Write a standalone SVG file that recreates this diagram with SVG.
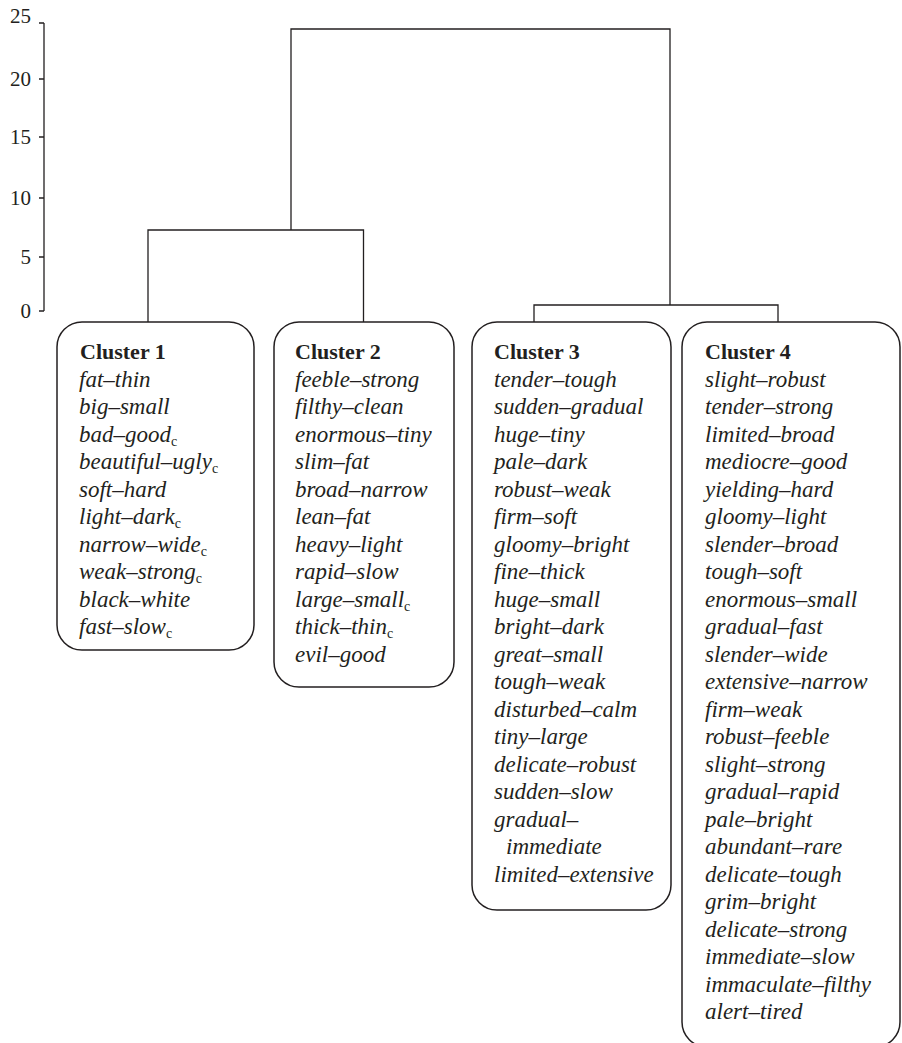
<svg xmlns="http://www.w3.org/2000/svg" width="902" height="1043" viewBox="0 0 902 1043">
<style>
.ln{fill:none;stroke:#231f20;stroke-width:1.3}
.box{fill:#fff;stroke:#231f20;stroke-width:1.5}
.ax{font-family:"Liberation Serif",serif;font-size:21px;fill:#231f20;text-anchor:end}
.t{font-family:"Liberation Serif",serif;font-size:22px;font-weight:bold;fill:#231f20}
.i{font-family:"Liberation Serif",serif;font-size:23px;font-style:italic;fill:#231f20}
.s{font-style:normal;font-size:14px}
</style>
<rect width="902" height="1043" fill="#fff"/>
<g id="axis">
<path class="ln" d="M44 23V311M39 23H44M39 79H44M39 137H44M39 198H44M39 257H44M39 311H44"/>
<text class="ax" x="31" y="23">25</text>
<text class="ax" x="31" y="86">20</text>
<text class="ax" x="31" y="144">15</text>
<text class="ax" x="31" y="205">10</text>
<text class="ax" x="31" y="264">5</text>
<text class="ax" x="31" y="318">0</text>
</g>
<g id="connectors">
<path class="ln" d="M148 322V230H363.5V322M291 230V29H670V305M534 322V305H778V322"/>
</g>
<g id="cluster1">
<rect class="box" x="57" y="322" width="197" height="328" rx="25"/>
<text class="t" x="80" y="359">Cluster 1</text>
<text class="i" x="79" y="386.5">fat–thin</text>
<text class="i" x="79" y="414">big–small</text>
<text class="i" x="79" y="441.5">bad–good<tspan class="s" dy="4">c</tspan></text>
<text class="i" x="79" y="469">beautiful–ugly<tspan class="s" dy="4">c</tspan></text>
<text class="i" x="79" y="496.5">soft–hard</text>
<text class="i" x="79" y="524">light–dark<tspan class="s" dy="4">c</tspan></text>
<text class="i" x="79" y="551.5">narrow–wide<tspan class="s" dy="4">c</tspan></text>
<text class="i" x="79" y="579">weak–strong<tspan class="s" dy="4">c</tspan></text>
<text class="i" x="79" y="606.5">black–white</text>
<text class="i" x="79" y="634">fast–slow<tspan class="s" dy="4">c</tspan></text>
</g>
<g id="cluster2">
<rect class="box" x="274" y="322" width="180" height="365" rx="25"/>
<text class="t" x="295" y="359">Cluster 2</text>
<text class="i" x="295" y="386.5">feeble–strong</text>
<text class="i" x="295" y="414">filthy–clean</text>
<text class="i" x="295" y="441.5">enormous–tiny</text>
<text class="i" x="295" y="469">slim–fat</text>
<text class="i" x="295" y="496.5">broad–narrow</text>
<text class="i" x="295" y="524">lean–fat</text>
<text class="i" x="295" y="551.5">heavy–light</text>
<text class="i" x="295" y="579">rapid–slow</text>
<text class="i" x="295" y="606.5">large–small<tspan class="s" dy="4">c</tspan></text>
<text class="i" x="295" y="634">thick–thin<tspan class="s" dy="4">c</tspan></text>
<text class="i" x="295" y="661.5">evil–good</text>
</g>
<g id="cluster3">
<rect class="box" x="472" y="322" width="199" height="588" rx="25"/>
<text class="t" x="494" y="359">Cluster 3</text>
<text class="i" x="494" y="386.5">tender–tough</text>
<text class="i" x="494" y="414">sudden–gradual</text>
<text class="i" x="494" y="441.5">huge–tiny</text>
<text class="i" x="494" y="469">pale–dark</text>
<text class="i" x="494" y="496.5">robust–weak</text>
<text class="i" x="494" y="524">firm–soft</text>
<text class="i" x="494" y="551.5">gloomy–bright</text>
<text class="i" x="494" y="579">fine–thick</text>
<text class="i" x="494" y="606.5">huge–small</text>
<text class="i" x="494" y="634">bright–dark</text>
<text class="i" x="494" y="661.5">great–small</text>
<text class="i" x="494" y="689">tough–weak</text>
<text class="i" x="494" y="716.5">disturbed–calm</text>
<text class="i" x="494" y="744">tiny–large</text>
<text class="i" x="494" y="771.5">delicate–robust</text>
<text class="i" x="494" y="799">sudden–slow</text>
<text class="i" x="494" y="826.5">gradual–</text>
<text class="i" x="506" y="854">immediate</text>
<text class="i" x="494" y="881.5">limited–extensive</text>
</g>
<g id="cluster4">
<rect class="box" x="682" y="322" width="218" height="725" rx="25"/>
<text class="t" x="705" y="359">Cluster 4</text>
<text class="i" x="705" y="386.5">slight–robust</text>
<text class="i" x="705" y="414">tender–strong</text>
<text class="i" x="705" y="441.5">limited–broad</text>
<text class="i" x="705" y="469">mediocre–good</text>
<text class="i" x="705" y="496.5">yielding–hard</text>
<text class="i" x="705" y="524">gloomy–light</text>
<text class="i" x="705" y="551.5">slender–broad</text>
<text class="i" x="705" y="579">tough–soft</text>
<text class="i" x="705" y="606.5">enormous–small</text>
<text class="i" x="705" y="634">gradual–fast</text>
<text class="i" x="705" y="661.5">slender–wide</text>
<text class="i" x="705" y="689">extensive–narrow</text>
<text class="i" x="705" y="716.5">firm–weak</text>
<text class="i" x="705" y="744">robust–feeble</text>
<text class="i" x="705" y="771.5">slight–strong</text>
<text class="i" x="705" y="799">gradual–rapid</text>
<text class="i" x="705" y="826.5">pale–bright</text>
<text class="i" x="705" y="854">abundant–rare</text>
<text class="i" x="705" y="881.5">delicate–tough</text>
<text class="i" x="705" y="909">grim–bright</text>
<text class="i" x="705" y="936.5">delicate–strong</text>
<text class="i" x="705" y="964">immediate–slow</text>
<text class="i" x="705" y="991.5">immaculate–filthy</text>
<text class="i" x="705" y="1019">alert–tired</text>
</g>
</svg>
